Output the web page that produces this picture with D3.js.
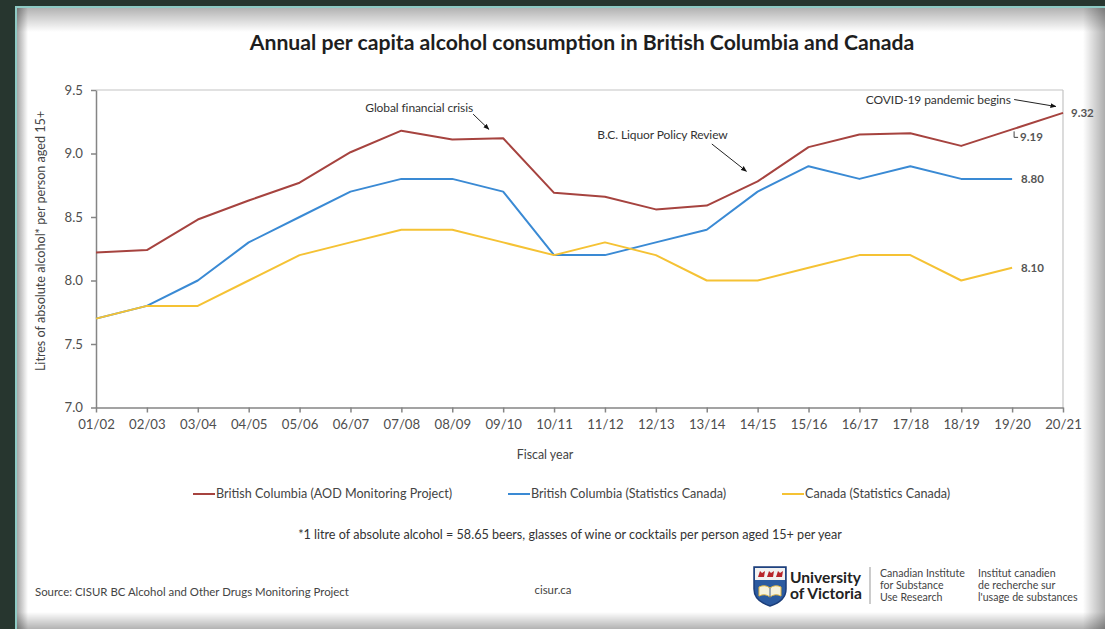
<!DOCTYPE html>
<html lang="en">
<head>
    <meta charset="UTF-8">
    <title>Annual per capita alcohol consumption in British Columbia and Canada</title>
    <script src="https://cdn.jsdelivr.net/npm/d3@7"></script>
    <style>
        html, body {
            margin: 0;
            padding: 0;
            background: #27362f;
            overflow: hidden;
        }

        svg text {
            font-family: Lato, "Open Sans", sans-serif;
        }

        .axis path, .axis line {
            stroke: #858585;
            stroke-width: 1.5px;
        }

        .axis text {
            fill: #4e4e4e;
            font-size: 13.2px;
        }
    </style>
</head>
<body>
<svg id="chart" width="1105" height="629"></svg>
<script>
    // fiscal years
    let years = ["01/02", "02/03", "03/04", "04/05", "05/06", "06/07", "07/08", "08/09", "09/10", "10/11",
        "11/12", "12/13", "13/14", "14/15", "15/16", "16/17", "17/18", "18/19", "19/20", "20/21"];

    // litres of absolute alcohol per person aged 15+
    let bcAod = [8.22, 8.24, 8.48, 8.63, 8.77, 9.01, 9.18, 9.11, 9.12, 8.69,
        8.66, 8.56, 8.59, 8.78, 9.05, 9.15, 9.16, 9.06, 9.19, 9.32];
    let bcStatcan = [7.7, 7.8, 8.0, 8.3, 8.5, 8.7, 8.8, 8.8, 8.7, 8.2,
        8.2, 8.3, 8.4, 8.7, 8.9, 8.8, 8.9, 8.8, 8.8];
    let canada = [7.7, 7.8, 7.8, 8.0, 8.2, 8.3, 8.4, 8.4, 8.3, 8.2,
        8.3, 8.2, 8.0, 8.0, 8.1, 8.2, 8.2, 8.0, 8.1];

    let yTicks = [7.0, 7.5, 8.0, 8.5, 9.0, 9.5];

    let seriesNames = ["British Columbia (AOD Monitoring Project)", "British Columbia (Statistics Canada)", "Canada (Statistics Canada)"];
    let colours = ["#a6433f", "#3a8ad4", "#f5c234"];

    let svg = d3.select("#chart");
    let W = 1105, H = 629;

    // ---- card background with soft inner shadow ----
    let defs = svg.append("defs");

    function grad(id, x1, y1, x2, y2, a1, a2) {
        let g = defs.append("linearGradient").attr("id", id)
            .attr("x1", x1).attr("y1", y1).attr("x2", x2).attr("y2", y2);
        g.append("stop").attr("offset", "0%").attr("stop-color", "#000").attr("stop-opacity", a1);
        g.append("stop").attr("offset", "100%").attr("stop-color", "#000").attr("stop-opacity", a2);
    }

    grad("shTop", 0, 0, 0, 1, 0.3, 0);
    grad("shLeft", 0, 0, 1, 0, 0.35, 0);
    grad("shRight", 0, 0, 1, 0, 0, 0.32);
    grad("shBottom", 0, 0, 0, 1, 0, 0.3);

    svg.append("rect").attr("width", W).attr("height", H).attr("fill", "#27362f");
    svg.append("rect").attr("x", 15).attr("y", 6).attr("width", W).attr("height", H).attr("fill", "#8ecac4");
    svg.append("rect").attr("x", 17).attr("y", 8).attr("width", W).attr("height", H).attr("fill", "#ffffff");
    svg.append("rect").attr("x", 17).attr("y", 8).attr("width", W).attr("height", 24).attr("fill", "url(#shTop)");
    svg.append("rect").attr("x", 17).attr("y", 8).attr("width", 11).attr("height", H).attr("fill", "url(#shLeft)");
    svg.append("rect").attr("x", 1083).attr("y", 8).attr("width", 22).attr("height", H).attr("fill", "url(#shRight)");
    svg.append("rect").attr("x", 17).attr("y", 612).attr("width", W).attr("height", 17).attr("fill", "url(#shBottom)");

    // ---- title ----
    svg.append("text")
        .attr("x", 582).attr("y", 50)
        .attr("text-anchor", "middle")
        .style("font-size", "21.2px")
        .style("font-weight", "700")
        .attr("fill", "#1e1e1e")
        .text("Annual per capita alcohol consumption in British Columbia and Canada");

    // ---- scales ----
    let x = d3.scalePoint().domain(years).range([96, 1063]);
    let y = d3.scaleLinear().domain([7, 9.5]).range([407.5, 90]);

    // helper for positions between categories
    function xAt(i) {
        return x(years[0]) + i * x.step();
    }

    // plot frame (top/right)
    svg.append("line")
        .attr("x1", x(years[0])).attr("x2", x(years[years.length - 1]))
        .attr("y1", y(9.5)).attr("y2", y(9.5))
        .attr("stroke", "#c4c4c4").attr("stroke-width", 1.2);
    svg.append("line")
        .attr("x1", x(years[years.length - 1])).attr("x2", x(years[years.length - 1]))
        .attr("y1", y(9.5)).attr("y2", y(7))
        .attr("stroke", "#c4c4c4").attr("stroke-width", 1.2);

    // axes
    svg.append("g")
        .attr("class", "axis")
        .attr("transform", "translate(" + x(years[0]) + ",0)")
        .call(d3.axisLeft(y).tickValues(yTicks).tickFormat(d3.format(".1f")).tickSize(5).tickSizeOuter(0).tickPadding(8));

    svg.append("g")
        .attr("class", "axis")
        .attr("transform", "translate(0," + y(7) + ")")
        .call(d3.axisBottom(x).tickSize(5).tickSizeOuter(0).tickPadding(7));

    // axis titles
    svg.append("text")
        .attr("transform", "translate(45,241) rotate(-90)")
        .attr("text-anchor", "middle")
        .style("font-size", "12.6px")
        .attr("fill", "#444")
        .text("Litres of absolute alcohol* per person aged 15+");

    svg.append("text")
        .attr("x", 545).attr("y", 459)
        .attr("text-anchor", "middle")
        .style("font-size", "12.4px")
        .attr("fill", "#444")
        .text("Fiscal year");

    // ---- lines ----
    let line = d3.line()
        .x(function (d, i) {
            return x(years[i]);
        })
        .y(function (d) {
            return y(d);
        });

    [bcAod, bcStatcan, canada].forEach(function (s, k) {
        svg.append("path")
            .datum(s)
            .attr("d", line)
            .attr("fill", "none")
            .attr("stroke", colours[k])
            .attr("stroke-width", 2)
            .attr("stroke-linejoin", "round");
    });

    // ---- end labels ----
    function endLabel(s, dy, txt) {
        let i = s.length - 1;
        svg.append("text")
            .attr("x", x(years[i]) + (i === years.length - 1 ? 8 : 9))
            .attr("y", y(s[i]) + dy)
            .attr("dy", "0.35em")
            .style("font-size", "11.5px")
            .style("font-weight", "700")
            .attr("fill", "#555")
            .text(txt);
    }

    endLabel(bcAod, 0, d3.format(".2f")(bcAod[bcAod.length - 1]));
    endLabel(bcStatcan, 0, d3.format(".2f")(bcStatcan[bcStatcan.length - 1]));
    endLabel(canada, 0, d3.format(".2f")(canada[canada.length - 1]));

    // 9.19 label with bracket (19/20 point of red series)
    let i19 = years.indexOf("19/20");
    let bx = x(years[i19]) + 2, by = y(bcAod[i19]);
    svg.append("path")
        .attr("d", "M" + bx + "," + (by + 2) + "V" + (by + 8) + "H" + (bx + 4))
        .attr("fill", "none").attr("stroke", "#444").attr("stroke-width", 1);
    svg.append("text")
        .attr("x", bx + 6).attr("y", by + 8)
        .attr("dy", "0.35em")
        .style("font-size", "11.5px")
        .style("font-weight", "700")
        .attr("fill", "#555")
        .text(d3.format(".2f")(bcAod[i19]));

    // ---- annotations ----
    defs.append("marker")
        .attr("id", "arrow")
        .attr("viewBox", "0 0 10 10")
        .attr("refX", 9).attr("refY", 5)
        .attr("markerWidth", 6).attr("markerHeight", 6)
        .attr("orient", "auto")
        .append("path").attr("d", "M0,1 L10,5 L0,9 Z").attr("fill", "#111");

    let notes = [
        {text: "Global financial crisis", tx: 6.35, tv: 9.36, ax1: 7.41, av1: 9.31, ax2: 7.72, av2: 9.19},
        {text: "B.C. Liquor Policy Review", tx: 11.13, tv: 9.145, ax1: 12.1, av1: 9.075, ax2: 12.78, av2: 8.86},
        {text: "COVID-19 pandemic begins", tx: 16.55, tv: 9.42, ax1: 18.04, av1: 9.425, ax2: 18.86, av2: 9.37}
    ];

    notes.forEach(function (n) {
        svg.append("text")
            .attr("x", xAt(n.tx)).attr("y", y(n.tv))
            .attr("dy", "0.35em")
            .attr("text-anchor", "middle")
            .style("font-size", "12px")
            .style("letter-spacing", "-0.1px")
            .attr("fill", "#333")
            .text(n.text);
        svg.append("line")
            .attr("x1", xAt(n.ax1)).attr("y1", y(n.av1))
            .attr("x2", xAt(n.ax2)).attr("y2", y(n.av2))
            .attr("stroke", "#222").attr("stroke-width", 1)
            .attr("marker-end", "url(#arrow)");
    });

    // ---- legend ----
    let legendX = [193, 508, 782];
    let lg = svg.append("g").attr("transform", "translate(0,494)");
    seriesNames.forEach(function (name, k) {
        lg.append("line")
            .attr("x1", legendX[k]).attr("x2", legendX[k] + 22)
            .attr("stroke", colours[k]).attr("stroke-width", 2);
        lg.append("text")
            .attr("x", legendX[k] + 23).attr("dy", "0.35em")
            .style("font-size", "12.6px")
            .attr("fill", "#444")
            .text(name);
    });

    // ---- footnote, source ----
    svg.append("text")
        .attr("x", 570).attr("y", 535)
        .attr("dy", "0.35em")
        .attr("text-anchor", "middle")
        .style("font-size", "12.6px")
        .attr("fill", "#333")
        .text("*1 litre of absolute alcohol = 58.65 beers, glasses of wine or cocktails per person aged 15+ per year");

    svg.append("text")
        .attr("x", 35).attr("y", 592)
        .attr("dy", "0.35em")
        .style("font-size", "11.4px")
        .attr("fill", "#444")
        .text("Source: CISUR BC Alcohol and Other Drugs Monitoring Project");

    svg.append("text")
        .attr("x", 553).attr("y", 590)
        .attr("dy", "0.35em")
        .attr("text-anchor", "middle")
        .style("font-size", "11.4px")
        .attr("fill", "#444")
        .text("cisur.ca");

    // ---- University of Victoria / CISUR logo ----
    let logo = svg.append("g").attr("transform", "translate(754,567)");
    logo.append("path")
        .attr("d", "M0,0 H32 V22 Q32,34 16,39 Q0,34 0,22 Z")
        .attr("fill", "#2b5aa0").attr("stroke", "#1b3d78").attr("stroke-width", 1.5);
    logo.append("rect").attr("x", 1).attr("y", 1).attr("width", 30).attr("height", 12).attr("fill", "#f2f2f2");
    [4, 13, 22].forEach(function (bx2) {
        logo.append("path")
            .attr("d", "M" + bx2 + ",10 l2,-6 l2,2 l3,-2 l-1,6 Z")
            .attr("fill", "#b8262c");
    });
    logo.append("path")
        .attr("d", "M5,20 Q11,17 16,21 Q21,17 27,20 V29 Q21,26 16,30 Q11,26 5,29 Z")
        .attr("fill", "#f6f1dc").attr("stroke", "#e2b640").attr("stroke-width", 1);
    logo.append("line").attr("x1", 16).attr("x2", 16).attr("y1", 21).attr("y2", 30)
        .attr("stroke", "#1b3d78").attr("stroke-width", 0.8);

    svg.append("text").attr("x", 790).attr("y", 583)
        .style("font-size", "15.6px").style("font-weight", "700").attr("fill", "#222")
        .text("University");
    svg.append("text").attr("x", 790).attr("y", 599)
        .style("font-size", "15.6px").style("font-weight", "700").attr("fill", "#222")
        .text("of Victoria");

    svg.append("line").attr("x1", 870).attr("x2", 870).attr("y1", 567).attr("y2", 604)
        .attr("stroke", "#999").attr("stroke-width", 1);

    let cisurEn = ["Canadian Institute", "for Substance", "Use Research"];
    let cisurFr = ["Institut canadien", "de recherche sur", "l'usage de substances"];
    cisurEn.forEach(function (t, i) {
        svg.append("text").attr("x", 880).attr("y", 573 + i * 12.3).attr("dy", "0.35em")
            .style("font-size", "10.6px").attr("fill", "#444").text(t);
    });
    cisurFr.forEach(function (t, i) {
        svg.append("text").attr("x", 978).attr("y", 573 + i * 12.3).attr("dy", "0.35em")
            .style("font-size", "10.6px").attr("fill", "#444").text(t);
    });
</script>
</body>
</html>
